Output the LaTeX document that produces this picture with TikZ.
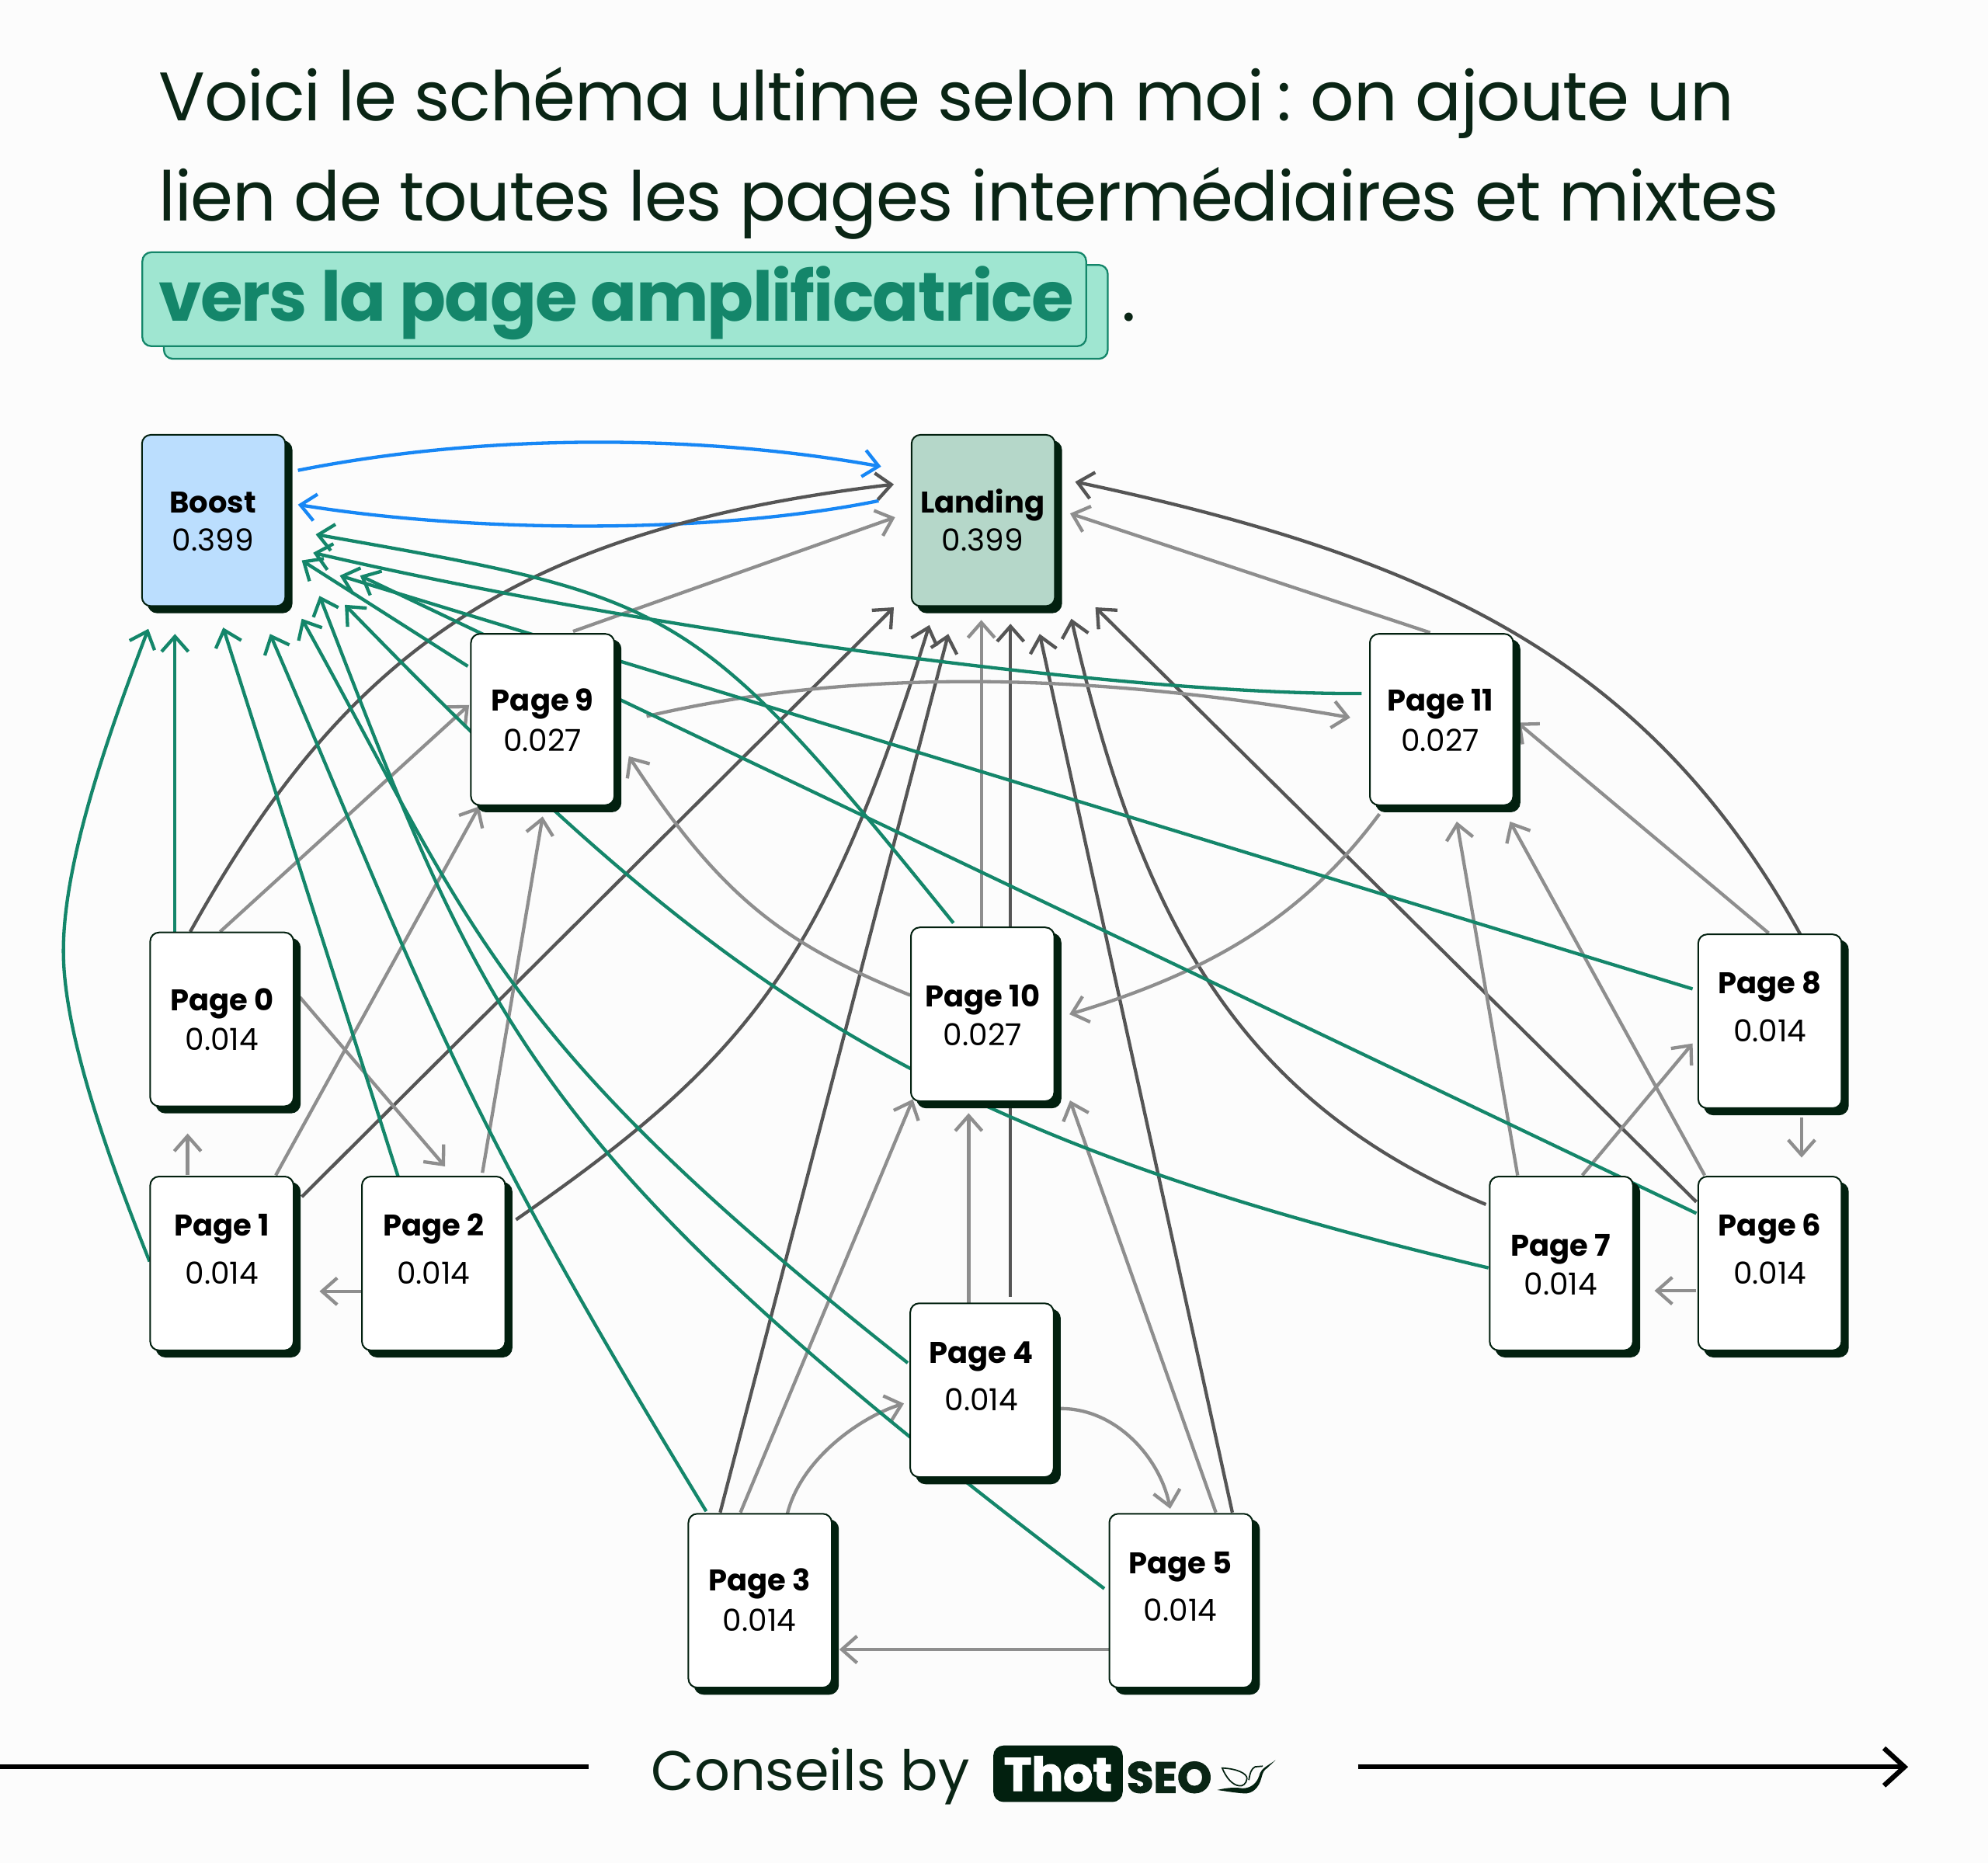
\documentclass[tikz,border=0pt]{standalone}
\usepackage{fontspec}
\setmainfont{Poppins}
\newfontfamily\logofont[BoldFeatures={FakeBold=2}]{Poppins}
\newfontfamily\headlinefont[LetterSpace=-1.3]{Poppins}
\newfontfamily\markfont[LetterSpace=-2]{Poppins}
\usetikzlibrary{arrows.meta, positioning, calc, shadows, backgrounds}

\definecolor{inkgreen}{HTML}{0A2515}
\definecolor{cardshadow}{HTML}{02200F}
\definecolor{linkgreen}{HTML}{14866A}
\definecolor{linkblue}{HTML}{1787F5}
\definecolor{linkgrey}{HTML}{8E8E8E}
\definecolor{linkdark}{HTML}{555555}
\definecolor{boostfill}{HTML}{BBDEFE}
\definecolor{landingfill}{HTML}{B5D7C9}
\definecolor{markfill}{HTML}{9FE6D1}
\definecolor{pagefill}{HTML}{FCFCFC}

\begin{document}
\begin{tikzpicture}[
    x=0.01cm, y=-0.01cm,
    card/.style={rectangle, draw=cardshadow, fill=white, line width=0.35pt, rounded corners=0.07cm, inner sep=0pt, minimum width=1.13cm, minimum height=1.37cm,
        general shadow={fill=cardshadow, draw=cardshadow, shadow xshift=0.05cm, shadow yshift=-0.05cm}},
    hubcard/.style={card, minimum height=1.35cm},
    cardtitle/.style={anchor=base, inner sep=0pt, yshift=-0.01cm, font=\fontsize{6.7}{8}\selectfont\bfseries, text=black},
    cardvalue/.style={anchor=base, inner sep=0pt, yshift=-0.01cm, font=\fontsize{6.8}{8}\selectfont, text=black},
    headline/.style={anchor=base west, inner sep=0pt, font=\headlinefont\fontsize{15.4}{20}\selectfont, text=inkgreen},
    markbox/.style={rectangle, draw=linkgreen, fill=markfill, line width=0.4pt, rounded corners=0.07cm, inner sep=0pt, minimum width=7.44cm, minimum height=0.74cm},
    arrow/.style={-{Straight Barb[length=3.4pt, width=6pt]}, line width=0.75pt},
    greyarrow/.style={arrow, linkgrey},
    darkarrow/.style={arrow, linkdark},
    greenarrow/.style={arrow, linkgreen},
    bluearrow/.style={arrow, linkblue},
    footrule/.style={line width=1.1pt, black}
]

\useasboundingbox (0,0) rectangle (1568,1469.4);

% headline
\node (line1) [headline] at (124.5,95) {Voici le schéma ultime selon moi\kern-1pt{} :\kern-1pt{} on ajoute un};
\node (line2) [headline] at (124.5,174) {lien de toutes les pages intermédiaires et mixtes};
\node (markback) [markbox] at (501.5,246) {};
\node (markfront) [markbox] at (484.5,236) {};
\node (line3) [headline, font=\markfont\fontsize{15.4}{20}\selectfont\bfseries, text=linkgreen] at (124.5,253) {vers la page amplificatrice};
\node (dot) [headline] at (884,253) {.};

% hubs
\node (boost) [hubcard, fill=boostfill] at (168.5,410.5) {};
\node (landing) [hubcard, fill=landingfill] at (775.5,410.5) {};
\node (boosttitle) [cardtitle] at (168,403.5) {Boost};
\node (boostvalue) [cardvalue] at (168,433.5) {0.399};
\node (landingtitle) [cardtitle] at (775,403.5) {Landing};
\node (landingvalue) [cardvalue] at (775,433.5) {0.399};

% pages
\node (page9) [hubcard] at (428,567.5) {};
\node (page9title) [cardtitle] at (428,560) {Page 9};
\node (page9value) [cardvalue] at (428,591.5) {0.027};
\node (page11) [hubcard] at (1137,567.5) {};
\node (page11title) [cardtitle] at (1136,560) {Page 11};
\node (page11value) [cardvalue] at (1136,591.5) {0.027};
\node (page0) [card] at (175,804) {};
\node (page0title) [cardtitle] at (175,796) {Page 0};
\node (page0value) [cardvalue] at (175,827.5) {0.014};
\node (page10) [card] at (775,800) {};
\node (page10title) [cardtitle] at (775,793) {Page 10};
\node (page10value) [cardvalue] at (775,823.5) {0.027};
\node (page8) [card] at (1396,805.5) {};
\node (page8title) [cardtitle] at (1396,783) {Page 8};
\node (page8value) [cardvalue] at (1396,820.5) {0.014};
\node (page1) [card] at (175,996.5) {};
\node (page1title) [cardtitle] at (175,974) {Page 1};
\node (page1value) [cardvalue] at (175,1011.5) {0.014};
\node (page2) [card] at (342,996.5) {};
\node (page2title) [cardtitle] at (342,974) {Page 2};
\node (page2value) [cardvalue] at (342,1011.5) {0.014};
\node (page7) [card] at (1231.5,996.5) {};
\node (page7title) [cardtitle] at (1231,990) {Page 7};
\node (page7value) [cardvalue] at (1231,1020.5) {0.014};
\node (page6) [card] at (1396,996.5) {};
\node (page6title) [cardtitle] at (1396,974) {Page 6};
\node (page6value) [cardvalue] at (1396,1011.5) {0.014};
\node (page4) [card] at (774.5,1096.5) {};
\node (page4title) [cardtitle] at (774,1074) {Page 4};
\node (page4value) [cardvalue] at (774,1111.5) {0.014};
\node (page3) [card] at (599.5,1262.5) {};
\node (page3title) [cardtitle] at (599,1254) {Page 3};
\node (page3value) [cardvalue] at (599,1285.5) {0.014};
\node (page5) [card] at (931.5,1262.5) {};
\node (page5title) [cardtitle] at (931,1240) {Page 5};
\node (page5value) [cardvalue] at (931,1277.5) {0.014};

\begin{scope}[on background layer]
\fill [pagefill] (0,0) rectangle (1568,1469.4);

% boost and landing
\draw [bluearrow] ($(boost)+(66.5,-39.5)$) .. controls (380,342) and (550,342) .. ($(landing)+(-80.5,-42.5)$);
\draw [bluearrow] ($(landing)+(-82.5,-15.5)$) .. controls (560,422) and (370,420) .. ($(boost)+(66.5,-12.5)$);

% links towards landing
\draw [darkarrow] ($(page0)+(-25,-69)$) .. controls (270,520) and (400,418) .. ($(landing)+(-70.5,-28.5)$);
\draw [darkarrow] ($(page1)+(63,-52.5)$) -- ($(landing)+(-70.5,68.5)$);
\draw [darkarrow] ($(page2)+(65,-34.5)$) .. controls (590,835) and (650,760) .. ($(landing)+(-42.5,82.5)$);
\draw [darkarrow] ($(page3)+(-31.5,-69.5)$) -- ($(landing)+(-27.5,89.5)$);
\draw [darkarrow] ($(page4)+(22.5,-73.5)$) -- ($(landing)+(21.5,81.5)$);
\draw [darkarrow] ($(page5)+(40.5,-69.5)$) -- ($(landing)+(44.5,89.5)$);
\draw [darkarrow] ($(page6)+(-58,-48.5)$) -- ($(landing)+(88.5,68.5)$);
\draw [darkarrow] ($(page7)+(-59.5,-46.5)$) .. controls (980,870) and (900,730) .. ($(landing)+(69.5,77.5)$);
\draw [darkarrow] ($(page8)+(24,-68.5)$) .. controls (1300,520) and (1130,440) .. ($(landing)+(72.5,-30.5)$);
\draw [greyarrow] ($(page9)+(24,-69.5)$) -- ($(landing)+(-69.5,-2.5)$);
\draw [greyarrow] ($(page10)+(-1,-67)$) -- ($(landing)+(-1.5,78.5)$);
\draw [greyarrow] ($(page11)+(-9,-68.5)$) -- ($(landing)+(68.5,-5.5)$);

% links between pages
\draw [greyarrow] ($(page0)+(-1.5,-69)$) -- ($(page9)+(-58,-11.5)$);
\draw [greyarrow] ($(page0)+(61.5,-17.5)$) -- ($(page2)+(9,-76.5)$);
\draw [greyarrow] ($(page1)+(-27,-69.5)$) -- ($(page0)+(-27,90)$);
\draw [greyarrow] ($(page1)+(42.5,-69.5)$) -- ($(page9)+(-50,68.5)$);
\draw [greyarrow] ($(page2)+(-57,22)$) -- ($(page1)+(77,22)$);
\draw [greyarrow] ($(page2)+(38.5,-71.5)$) -- ($(page9)+(0,76.5)$);
\draw [greyarrow] ($(page3)+(21.5,-68.5)$) .. controls (632,1150) and (680,1117) .. ($(page4)+(-61.5,10.5)$);
\draw [greyarrow] ($(page3)+(-15.5,-69.5)$) -- ($(page10)+(-55,67)$);
\draw [greyarrow] ($(page4)+(60.5,14.5)$) .. controls (880,1110) and (915,1150) .. ($(page5)+(-8.5,-72.5)$);
\draw [greyarrow] ($(page4)+(-10.5,-68.5)$) -- ($(page10)+(-11,78)$);
\draw [greyarrow] ($(page5)+(-56.5,38.5)$) -- ($(page3)+(62.5,38.5)$);
\draw [greyarrow] ($(page5)+(27.5,-69.5)$) -- ($(page10)+(69,68)$);
\draw [greyarrow] ($(page6)+(-58,21.5)$) -- ($(page7)+(73.5,21.5)$);
\draw [greyarrow] ($(page6)+(-51.5,-69.5)$) -- ($(page11)+(54,80.5)$);
\draw [greyarrow] ($(page7)+(16.5,-69.5)$) -- ($(page8)+(-61,17.5)$);
\draw [greyarrow] ($(page7)+(-34.5,-69.5)$) -- ($(page11)+(12,80.5)$);
\draw [greyarrow] ($(page8)+(25,76)$) -- ($(page6)+(25,-83.5)$);
\draw [greyarrow] ($(page8)+(-1,-69.5)$) -- ($(page11)+(60,2.5)$);
\draw [greyarrow] ($(page9)+(82,-2.5)$) .. controls (680,525) and (870,532) .. ($(page11)+(-72,-1.5)$);
\draw [greyarrow] ($(page10)+(-57,-15)$) .. controls (620,745) and (570,710) .. ($(page9)+(68,29)$);
\draw [greyarrow] ($(page11)+(-49,74.5)$) .. controls (1030,720) and (960,765) .. ($(page10)+(68.5,0)$);

% links towards boost
\draw [greenarrow] ($(page0)+(-37,-69)$) -- ($(boost)+(-30.5,89.5)$);
\draw [greenarrow] ($(page1)+(-57,-1.5)$) .. controls (80,900) and (50,810) .. (50,750) .. controls (50,680) and (85,580) .. ($(boost)+(-51.5,85.5)$);
\draw [greenarrow] ($(page2)+(-28,-68.5)$) -- ($(boost)+(7.5,84.5)$);
\draw [greenarrow] ($(page3)+(-42.5,-70.5)$) .. controls (352,856) and (335,783) .. ($(boost)+(44.5,89.5)$);
\draw [greenarrow] ($(page4)+(-58.5,-21.5)$) .. controls (389,817) and (373,731) .. ($(boost)+(69.5,77.5)$);
\draw [greenarrow] ($(page5)+(-60.5,-9.5)$) .. controls (415,908) and (384,811) .. ($(boost)+(83.5,59.5)$);
\draw [greenarrow] ($(page6)+(-58,-39.5)$) -- ($(boost)+(115.5,43.5)$);
\draw [greenarrow] ($(page7)+(-57.5,3.5)$) .. controls (716,892) and (562,775) .. ($(boost)+(103.5,66.5)$);
\draw [greenarrow] ($(page8)+(-61,-25.5)$) -- ($(boost)+(99.5,43.5)$);
\draw [greenarrow] ($(page9)+(-59,-42)$) -- ($(boost)+(69.5,31.5)$);
\draw [greenarrow] ($(page10)+(-23,-72)$) .. controls (546,473) and (534,472) .. ($(boost)+(80.5,11)$);
\draw [greenarrow] ($(page11)+(-63,-20.5)$) .. controls (880,548) and (500,495) .. ($(boost)+(78.5,25.5)$);
\end{scope}

% footer
\coordinate (ruleleft) at (0,1393.6);
\coordinate (ruleleftend) at (464,1393.6);
\coordinate (ruleright) at (1071,1393.6);
\coordinate (rulerightend) at (1505,1393.6);
\draw [footrule] (ruleleft) -- (ruleleftend);
\draw [footrule, -{Straight Barb[length=4.6pt, width=8.4pt]}] (ruleright) -- (rulerightend);
\node (conseils) [headline, font=\fontsize{12.5}{16}\selectfont] at (513,1412) {Conseils by};
\node (thot) [rectangle, fill=cardshadow, rounded corners=0.08cm, inner sep=0pt, minimum width=1.02cm, minimum height=0.445cm, text=white, font=\logofont\fontsize{10.5}{10}\selectfont\bfseries] at (834.5,1399) {Thot};
\node (seo) [headline, font=\logofont\fontsize{9.8}{10}\selectfont\bfseries] at (888,1414) {SEO};

% hummingbird next to the logo
\draw [cardshadow, line width=0.3pt, fill=pagefill] (964,1394.5) .. controls (976,1395) and (984,1399) .. (983.5,1403) .. controls (983,1407) and (980,1409) .. (977.5,1408.5) .. controls (972,1408) and (967,1402) .. (964,1394.5) -- cycle;
\fill [cardshadow] (960,1411.8) .. controls (968,1410) and (974,1409.5) .. (980,1410.5) .. controls (986,1410.5) and (991,1407) .. (993,1401) .. controls (994,1397) and (996,1395) .. (999,1393) -- (1006,1388.3) -- (999.5,1394.5) .. controls (997,1396) and (996,1398) .. (995,1402) .. controls (993,1410) and (988,1415) .. (981,1414.5) .. controls (974,1414) and (967,1412.8) .. (960,1411.8) -- cycle;
\draw [cardshadow, line width=0.3pt] (985,1404) .. controls (986,1398) and (987,1395) .. (990,1393.5) -- (996,1393);

\end{tikzpicture}
\end{document}
